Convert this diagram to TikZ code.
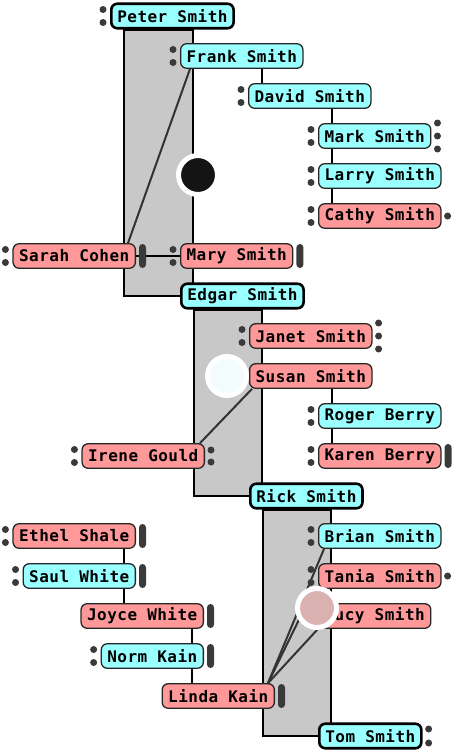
\documentclass[tikz,border=0pt]{standalone}
\usepackage{fontspec}
\newfontfamily\namefont[LetterSpace=3]{DejaVu Sans Mono}
\usepackage{tikz}
\usetikzlibrary{positioning,backgrounds}
\definecolor{boy}{HTML}{99FFFF}
\definecolor{girl}{HTML}{FF9999}
\definecolor{band}{HTML}{C8C8C8}
\definecolor{knob}{HTML}{3A3A3A}

\begin{document}
\begin{tikzpicture}[x=1pt, y=-1pt, line join=round,
	person/.style={rectangle, rounded corners=6pt, draw=black!85, line width=1.3pt, anchor=west,
		minimum height=24.5pt, inner xsep=6pt, inner ysep=0pt,
		font={\namefont\bfseries\fontsize{16}{16}\selectfont}},
	male/.style={person, fill=boy},
	female/.style={person, fill=girl},
	heir/.style={line width=2.6pt, draw=black},
	family/.style={fill=band, draw=black, line width=2.2pt},
	link/.style={draw=black, line width=2pt},
	kin/.style={draw=black!80, line width=2pt},
	marker/.style={circle, draw=white, line width=5pt, minimum size=39pt, inner sep=0pt}]
	\useasboundingbox (0,0) rectangle (455,753);

	% main line
	\node[male, heir] (peter) at (110,16)  {Peter Smith};
	\node[male, heir] (edgar) at (180,296) {Edgar Smith};
	\node[male, heir] (rick)  at (249,496) {Rick Smith};
	\node[male, heir] (tom)   at (318,736) {Tom Smith};

	% Peter's family
	\node[male]   (frank) at (180,56)  {Frank Smith};
	\node[male]   (david) at (248,96)  {David Smith};
	\node[male]   (mark)  at (318,136) {Mark Smith};
	\node[male]   (larry) at (318,176) {Larry Smith};
	\node[female] (cathy) at (318,216) {Cathy Smith};
	\node[female] (mary)  at (180,256) {Mary Smith};
	\node[female] (sarah) [anchor=east] at (136,256) {Sarah Cohen};

	% Edgar's family
	\node[female] (janet) at (249,336) {Janet Smith};
	\node[female] (susan) at (249,376) {Susan Smith};
	\node[male]   (roger) at (318,416) {Roger Berry};
	\node[female] (karen) at (318,456) {Karen Berry};
	\node[female] (irene) [anchor=east] at (205,456) {Irene Gould};

	% Rick's family
	\node[male]   (brian) at (318,536) {Brian Smith};
	\node[female] (tania) at (318,576) {Tania Smith};
	\node[female] (lucy)  at (318,616) {Lucy Smith};
	\node[female] (ethel) [anchor=east] at (136,536) {Ethel Shale};
	\node[male]   (saul)  [anchor=east] at (136,576) {Saul White};
	\node[female] (joyce) [anchor=east] at (204,616) {Joyce White};
	\node[male]   (norm)  [anchor=east] at (204,656) {Norm Kain};
	\node[female] (linda) [anchor=east] at (275,696) {Linda Kain};

	\begin{scope}[on background layer]
		\path[family] ([xshift=14pt]peter.south west) rectangle ([xshift=13pt]edgar.west);
		\path[family] ([xshift=14pt]edgar.south west) rectangle ([xshift=13pt]rick.west);
		\path[family] ([xshift=14pt]rick.south west) rectangle ([xshift=13pt]tom.west);
		\foreach \a/\b in {frank/david, david/mark, mark/larry, larry/cathy, susan/roger, roger/karen}
			\draw[link] ([xshift=14pt]\b.north west) coordinate (tmp) -- (tmp |- \a.south);
		\foreach \a/\b in {ethel/saul, saul/joyce, joyce/norm, norm/linda}
			\draw[link] ([xshift=-12pt]\a.south east) coordinate (tmp) -- (tmp |- \b.north);
		\draw[link] (sarah.east) -- (mary.west);
		\draw[kin] ([xshift=10pt]frank.south west) -- ([xshift=-8pt]sarah.north east);
		\draw[kin] ([xshift=3pt]susan.south west) -- ([xshift=-5pt]irene.north east);
		\draw[kin] ([xshift=-7pt]linda.north east) -- ([xshift=6pt]brian.south west);
		\draw[kin] ([xshift=-7pt]linda.north east) -- ([xshift=-4pt]tania.south west);
		\draw[kin] ([xshift=-7pt]linda.north east) -- (lucy.south west);
	\end{scope}

	% dots and bars
	\foreach \n in {peter,frank,david,mark,larry,cathy,sarah,mary,janet,irene,roger,karen,brian,tania,ethel,saul,norm}
		\fill[knob] ([xshift=-7pt,yshift=6.5pt]\n.west) circle (3.5pt)
			([xshift=-7pt,yshift=-6.5pt]\n.west) circle (3.5pt);
	\foreach \n in {mark,janet}
		\fill[knob] ([xshift=6pt,yshift=13pt]\n.east) circle (3.5pt)
			([xshift=6pt]\n.east) circle (3.5pt)
			([xshift=6pt,yshift=-13pt]\n.east) circle (3.5pt);
	\foreach \n in {cathy,tania}
		\fill[knob] ([xshift=6pt]\n.east) circle (3.5pt);
	\fill[knob] ([xshift=6pt,yshift=6pt]irene.east) circle (3.5pt)
		([xshift=6pt,yshift=-6pt]irene.east) circle (3.5pt);
	\fill[knob] ([xshift=6pt,yshift=7pt]tom.east) circle (3.5pt)
		([xshift=6pt,yshift=-7pt]tom.east) circle (3.5pt);
	\foreach \n in {sarah,mary,karen,ethel,saul,joyce,norm,linda}
		\fill[knob, rounded corners=3.5pt] ([xshift=3pt,yshift=12pt]\n.east) rectangle ([xshift=10pt,yshift=-12pt]\n.east);

	% markers
	\node[marker, fill={rgb,255:red,20;green,20;blue,20}] (dark) at (198,175) {};
	\node[marker, fill={rgb,255:red,242;green,252;blue,252}] (pale) at (227,376) {};
	\node[marker, fill={rgb,255:red,217;green,177;blue,177}] (rose) at (317,608) {};
\end{tikzpicture}
\end{document}
